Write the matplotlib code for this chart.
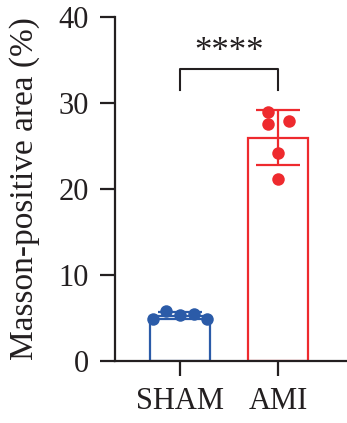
import numpy as np
import matplotlib.pyplot as plt

plt.rcParams['font.family'] = ['Liberation Serif', 'DejaVu Serif']

groups = ['SHAM', 'AMI']
sham = [4.9, 5.8, 5.35, 5.45, 4.9]
ami = [29.0, 27.6, 27.9, 24.2, 21.2]
yticks = [0, 10, 20, 30, 40]
colors = ['#2b5ba8', '#ee2a2e']
ink = '#231f20'

data = [sham, ami]
means = [np.mean(d) for d in data]
sds = [np.std(d, ddof=1) for d in data]

fig = plt.figure(figsize=(3.47, 4.23), dpi=100)
ax = fig.add_axes([115 / 347, 62 / 423, 232 / 347, 344 / 423])

x = np.arange(len(groups))
w = 0.61
for i, d in enumerate(data):
    c = colors[i]
    ax.bar(x[i], means[i], width=w, facecolor='none', edgecolor=c, linewidth=1.6, zorder=2)
    ax.errorbar(x[i], means[i], yerr=sds[i], color=c, capsize=16, capthick=1.6,
                elinewidth=1.6, zorder=3)
    # scatter the points across the bar
    offs = np.linspace(-0.28, 0.28, len(d)) if i == 0 else [-0.1, -0.1, 0.11, 0.0, 0.0]
    ax.plot(x[i] + np.array(offs), d, 'o', color=c, markersize=9, zorder=4,
            markeredgewidth=0)

# significance bracket
yb, yt = 31.5, 34.0
ax.plot([0, 0, 1, 1], [yb, yt, yt, yb], color=ink, linewidth=1.5, clip_on=False)
ax.text(0.5, 35.9, '****', ha='center', va='center', fontsize=25, color=ink)

ax.set_xlim(-0.663, 1.704)
ax.set_ylim(0, 40)
ax.set_yticks(yticks)
ax.set_xticks(x)
ax.set_xticklabels(groups)
ax.set_ylabel('Masson-positive area (%)', fontsize=24, color=ink, labelpad=13)
ax.tick_params(axis='both', labelsize=22, colors=ink, width=1.6, length=11, pad=8)
for s in ['top', 'right']:
    ax.spines[s].set_visible(False)
for s in ['left', 'bottom']:
    ax.spines[s].set_linewidth(1.6)
    ax.spines[s].set_color(ink)

fig.savefig('out.png', dpi=100)
